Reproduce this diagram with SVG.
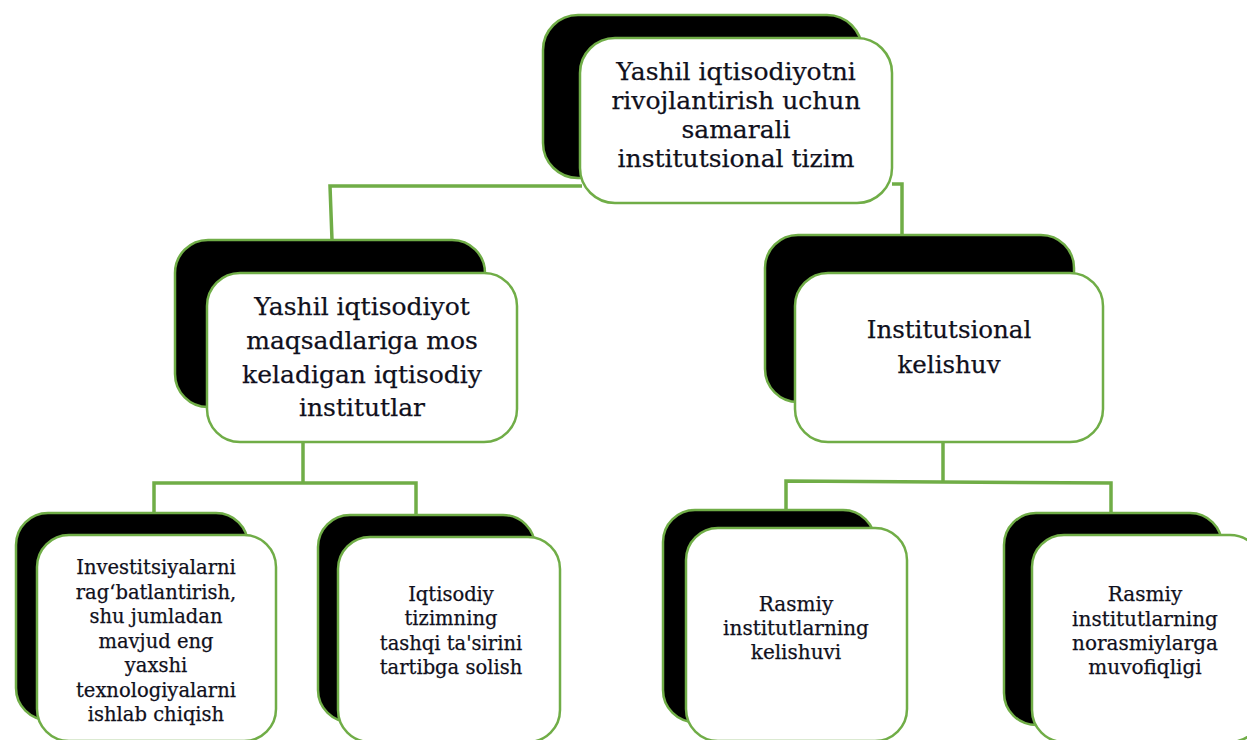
<svg xmlns="http://www.w3.org/2000/svg" width="1247" height="740" viewBox="0 0 1247 740">
<style>
.back{fill:#000;stroke:#70AD47;stroke-width:2.5}
.front{fill:#fff;stroke:#70AD47;stroke-width:2.5}
.conn{fill:none;stroke:#70AD47;stroke-width:3.5;stroke-linejoin:miter}
text{font-family:"DejaVu Serif","Liberation Serif",serif;fill:#10101c;stroke:#10101c;stroke-width:0.25;text-anchor:middle}
.t1{font-size:25px}
.t2{font-size:24.5px}
.t3{font-size:19.5px}
.t4{font-size:20px}
</style>
<rect width="1247" height="740" fill="#fff"/>
<g id="connectors">
<path class="conn" d="M582,186 H330 L332,240"/>
<path class="conn" d="M892,184 H902 V236"/>
<path class="conn" d="M303,442 V483"/>
<path class="conn" d="M154,514 V483 H416 V516"/>
<path class="conn" d="M943,442 V481"/>
<path class="conn" d="M786,511 V481 L1111,483 V514"/>
</g>
<g id="node-top">
<rect class="back" x="543" y="15" width="319" height="163" rx="35"/>
<rect class="front" x="580" y="38" width="312" height="165" rx="35"/>
<text class="t1"><tspan x="736" y="80">Yashil iqtisodiyotni</tspan><tspan x="736" y="109">rivojlantirish uchun</tspan><tspan x="736" y="138">samarali</tspan><tspan x="736" y="167">institutsional tizim</tspan></text>
</g>
<g id="node-mid-left">
<rect class="back" x="175" y="240" width="310" height="167" rx="33"/>
<rect class="front" x="207" y="273" width="310" height="169" rx="33"/>
<text class="t1"><tspan x="362" y="315">Yashil iqtisodiyot</tspan><tspan x="362" y="349">maqsadlariga mos</tspan><tspan x="362" y="383">keladigan iqtisodiy</tspan><tspan x="362" y="416">institutlar</tspan></text>
</g>
<g id="node-mid-right">
<rect class="back" x="765" y="235" width="309" height="167" rx="33"/>
<rect class="front" x="795" y="273" width="308" height="169" rx="33"/>
<text class="t2"><tspan x="949" y="338">Institutsional</tspan><tspan x="949" y="373">kelishuv</tspan></text>
</g>
<g id="node-bottom-1">
<rect class="back" x="16" y="513" width="232" height="207" rx="32"/>
<rect class="front" x="37" y="535" width="239" height="206" rx="32"/>
<text class="t3"><tspan x="156" y="574">Investitsiyalarni</tspan><tspan x="156" y="598.5">rag‘batlantirish,</tspan><tspan x="156" y="623">shu jumladan</tspan><tspan x="156" y="647.5">mavjud eng</tspan><tspan x="156" y="672">yaxshi</tspan><tspan x="156" y="696.5">texnologiyalarni</tspan><tspan x="156" y="721">ishlab chiqish</tspan></text>
</g>
<g id="node-bottom-2">
<rect class="back" x="318" y="515" width="217" height="207" rx="32"/>
<rect class="front" x="338" y="537" width="222" height="205" rx="32"/>
<text class="t3"><tspan x="451" y="601">Iqtisodiy</tspan><tspan x="451" y="625">tizimning</tspan><tspan x="451" y="650">tashqi ta'sirini</tspan><tspan x="451" y="674">tartibga solish</tspan></text>
</g>
<g id="node-bottom-3">
<rect class="back" x="663" y="510" width="212" height="212" rx="32"/>
<rect class="front" x="686" y="528" width="221" height="213" rx="32"/>
<text class="t4"><tspan x="796" y="611">Rasmiy</tspan><tspan x="796" y="635">institutlarning</tspan><tspan x="796" y="659">kelishuvi</tspan></text>
</g>
<g id="node-bottom-4">
<rect class="back" x="1004" y="513" width="218" height="212" rx="32"/>
<rect class="front" x="1032" y="535" width="230" height="207" rx="32"/>
<text class="t4"><tspan x="1145" y="601">Rasmiy</tspan><tspan x="1145" y="626">institutlarning</tspan><tspan x="1145" y="650">norasmiylarga</tspan><tspan x="1145" y="674">muvofiqligi</tspan></text>
</g>
</svg>
